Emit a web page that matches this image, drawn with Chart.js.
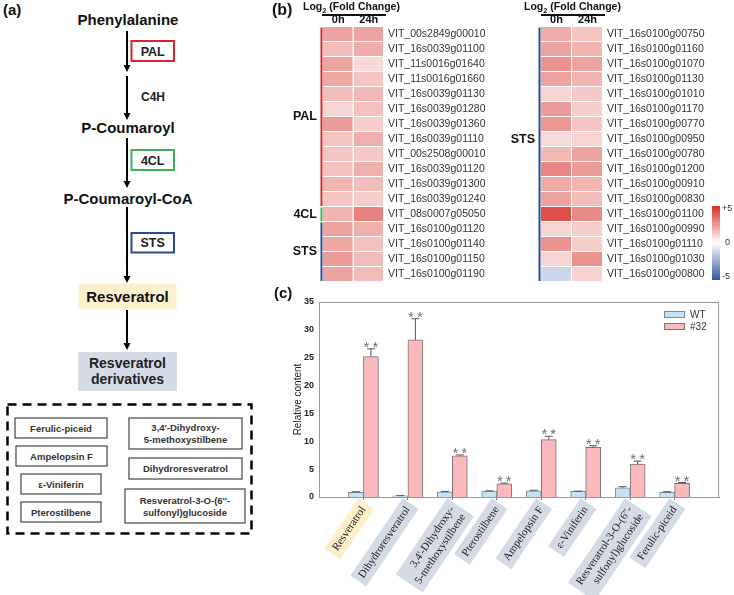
<!DOCTYPE html>
<html>
<head>
<meta charset="utf-8">
<title>Resveratrol pathway, gene expression and metabolite content</title>
<script src="https://cdn.jsdelivr.net/npm/chart.js"></script>
<style>
  body { margin: 0; width: 734px; height: 595px; position: relative; background: #fff; overflow: hidden;
         font-family: Arial, "Liberation Sans", sans-serif; }
  .abs { position: absolute; white-space: nowrap; }
  .panel { font-weight: bold; font-size: 15px; color: #111; }
  .hdr { font-weight: bold; font-size: 10.5px; color: #111; }
  .hdr span { font-size: 7.5px; position: relative; top: 3px; }
  .rule { height: 2px; background: #111; }
  .cb { font-size: 9px; color: #333; }
  canvas { position: absolute; }
  svg text { font-family: Arial, "Liberation Sans", sans-serif; font-weight: bold; }
</style>
</head>
<body>

<!-- (a) pathway -->
<svg class="abs" style="left:0;top:0" width="260" height="540">
  <text x="3" y="15" font-size="15" fill="#111">(a)</text>

  <text x="128" y="25" font-size="15" text-anchor="middle" fill="#111">Phenylalanine</text>
  <line x1="127" y1="31" x2="127" y2="65" stroke="#000" stroke-width="2"/>
  <polygon points="123.5,65 130.5,65 127,72" fill="#000"/>
  <rect x="131.5" y="41" width="42.5" height="20" fill="#fff" stroke="#d7262b" stroke-width="2"/>
  <text x="152.7" y="55.5" font-size="12.5" text-anchor="middle" fill="#222">PAL</text>

  <line x1="127" y1="76" x2="127" y2="113" stroke="#000" stroke-width="2"/>
  <polygon points="123.5,113 130.5,113 127,120" fill="#000"/>
  <text x="153" y="101" font-size="12" text-anchor="middle" fill="#222">C4H</text>

  <text x="128" y="133" font-size="15" text-anchor="middle" fill="#111">P-Coumaroyl</text>
  <line x1="127" y1="138" x2="127" y2="181" stroke="#000" stroke-width="2"/>
  <polygon points="123.5,181 130.5,181 127,188" fill="#000"/>
  <rect x="131.5" y="150" width="42.5" height="20" fill="#fff" stroke="#3cb25a" stroke-width="2"/>
  <text x="152.7" y="164.5" font-size="12.5" text-anchor="middle" fill="#222">4CL</text>

  <text x="128" y="204" font-size="15" text-anchor="middle" fill="#111">P-Coumaroyl-CoA</text>
  <line x1="127" y1="207" x2="127" y2="276" stroke="#000" stroke-width="2"/>
  <polygon points="123.5,276 130.5,276 127,283" fill="#000"/>
  <rect x="131.5" y="233" width="42.5" height="19.5" fill="#fff" stroke="#2c4b8e" stroke-width="2"/>
  <text x="152.7" y="247" font-size="12.5" text-anchor="middle" fill="#222">STS</text>

  <rect x="78.5" y="283.5" width="98" height="26" fill="#fdf0cc"/>
  <text x="127.5" y="302" font-size="15" text-anchor="middle" fill="#111">Resveratrol</text>
  <line x1="127" y1="310" x2="127" y2="343" stroke="#000" stroke-width="2"/>
  <polygon points="123.5,343 130.5,343 127,350" fill="#000"/>

  <rect x="78" y="352" width="99" height="39" fill="#d6dce7"/>
  <text x="127.5" y="368" font-size="14" text-anchor="middle" fill="#222">Resveratrol</text>
  <text x="127.5" y="384" font-size="14" text-anchor="middle" fill="#222">derivatives</text>

  <rect x="7.5" y="404.5" width="244" height="129" fill="none" stroke="#000" stroke-width="2.5" stroke-dasharray="9 6"/>
  <g font-size="9.5" fill="#333" text-anchor="middle">
    <rect x="15" y="418" width="92" height="20" fill="#fff" stroke="#444" stroke-width="1.2"/>
    <text x="61" y="431.5">Ferulic-piceid</text>
    <rect x="16" y="446" width="91" height="20" fill="#fff" stroke="#444" stroke-width="1.2"/>
    <text x="61.5" y="459.5">Ampelopsin F</text>
    <rect x="21" y="474" width="80" height="20" fill="#fff" stroke="#444" stroke-width="1.2"/>
    <text x="61" y="487.5">ε-Viniferin</text>
    <rect x="21" y="502" width="80" height="20" fill="#fff" stroke="#444" stroke-width="1.2"/>
    <text x="61" y="515.5">Pterostilbene</text>
    <rect x="129" y="418" width="113" height="31" fill="#fff" stroke="#444" stroke-width="1.2"/>
    <text x="185.5" y="431">3,4′-Dihydroxy-</text>
    <text x="185.5" y="443">5-methoxystilbene</text>
    <rect x="129" y="458" width="113" height="21" fill="#fff" stroke="#444" stroke-width="1.2"/>
    <text x="185.5" y="472">Dihydroresveratrol</text>
    <rect x="125" y="489" width="120" height="34" fill="#fff" stroke="#444" stroke-width="1.2"/>
    <text x="185" y="503.5">Resveratrol-3-O-(6''-</text>
    <text x="185" y="516">sulfonyl)glucoside</text>
  </g>
</svg>

<!-- (b) heatmaps -->
<canvas id="heatLeft" width="220" height="283" style="left:280px;top:10px"></canvas>
<canvas id="heatRight" width="234" height="283" style="left:500px;top:10px"></canvas>
<canvas id="bars" width="472" height="305" style="left:262px;top:290px"></canvas>

<div class="abs panel" style="left:272px;top:1px;font-size:16px">(b)</div>
<div class="abs hdr" style="left:303px;top:0px">Log<span>2</span> (Fold Change)</div>
<div class="abs rule" style="left:322px;top:14px;width:64px"></div>
<div class="abs hdr" style="left:524px;top:0px">Log<span>2</span> (Fold Change)</div>
<div class="abs rule" style="left:541px;top:14px;width:64px"></div>

<div class="abs" style="left:712px;top:206px;width:8px;height:74px;background:linear-gradient(to bottom, rgb(214,47,39), #fff 50%, rgb(49,84,163))"></div>
<div class="abs cb" style="left:722px;top:203px">+5</div>
<div class="abs cb" style="left:725px;top:237px">0</div>
<div class="abs cb" style="left:722px;top:271px">-5</div>

<div class="abs panel" style="left:274px;top:284px">(c)</div>

<script>
  const ARIAL = 'Arial, "Liberation Sans", sans-serif';
  const TIMES = '"Times New Roman", "Liberation Serif", serif';

  // ---- heatmap data: log2 fold change ----
  const timepoints = ['0h', '24h'];

  const leftGenes = ['VIT_00s2849g00010', 'VIT_16s0039g01100', 'VIT_11s0016g01640', 'VIT_11s0016g01660',
    'VIT_16s0039g01130', 'VIT_16s0039g01280', 'VIT_16s0039g01360', 'VIT_16s0039g01110',
    'VIT_00s2508g00010', 'VIT_16s0039g01120', 'VIT_16s0039g01300', 'VIT_16s0039g01240',
    'VIT_08s0007g05050', 'VIT_16s0100g01120', 'VIT_16s0100g01140', 'VIT_16s0100g01150', 'VIT_16s0100g01190'];
  const left0h  = [2.2, 1.6, 2.2, 2.1, 1.6, 1.0, 2.4, 1.4, 1.4, 1.5, 1.8, 1.4, 1.8, 2.2, 2.1, 2.4, 2.2];
  const left24h = [2.2, 2.0, 0.9, 1.4, 1.7, 1.5, 1.2, 1.9, 1.3, 1.9, 1.6, 1.2, 3.0, 1.9, 1.5, 1.6, 1.6];
  const leftGroups = [
    { name: 'PAL', first: 0, last: 11, labelRow: 5.5 },
    { name: '4CL', first: 12, last: 12, labelRow: 12 },
    { name: 'STS', first: 13, last: 16, labelRow: 14.5 }
  ];

  const rightGenes = ['VIT_16s0100g00750', 'VIT_16s0100g01160', 'VIT_16s0100g01070', 'VIT_16s0100g01130',
    'VIT_16s0100g01010', 'VIT_16s0100g01170', 'VIT_16s0100g00770', 'VIT_16s0100g00950',
    'VIT_16s0100g00780', 'VIT_16s0100g01200', 'VIT_16s0100g00910', 'VIT_16s0100g00830',
    'VIT_16s0100g01100', 'VIT_16s0100g00990', 'VIT_16s0100g01110', 'VIT_16s0100g01030', 'VIT_16s0100g00800'];
  const right0h  = [2.0, 2.2, 2.6, 2.2, 1.0, 2.4, 2.5, 0.9, 1.7, 2.9, 2.0, 2.2, 4.2, 1.0, 2.6, 1.0, -1.2];
  const right24h = [1.4, 1.8, 2.2, 1.8, 1.3, 1.2, 1.4, 1.0, 2.2, 2.4, 1.8, 1.6, 2.8, 1.2, 1.2, 2.6, 1.1];
  const rightGroups = [{ name: 'STS', first: 0, last: 16, labelRow: 7 }];

  const groupColors = { PAL: '#d7262b', '4CL': '#3cb25a', STS: '#2c4b8e' };

  // ---- bar chart data ----
  const compounds = ['Resveratrol', 'Dihydroresveratrol', ['3,4\'-Dihydroxy-', '5-methoxystilbene'],
    'Pterostilbene', 'Ampelopsin F', 'ε-Viniferin', ['Resveratrol-3-O-(6\'\'-', 'sulfonyl)glucoside'], 'Ferulic-piceid'];
  const wtValues     = [0.85, 0.2, 0.95, 1.05, 1.1, 1.0, 1.65, 0.85];
  const wtErrors     = [0.1, 0.05, 0.05, 0.05, 0.1, 0.05, 0.2, 0.1];
  const line32Values = [25.2, 28.2, 7.4, 2.35, 10.3, 8.9, 5.9, 2.45];
  const line32Errors = [1.4, 3.8, 0.15, 0.15, 0.6, 0.3, 0.55, 0.15];
  const significance = ['**', '**', '**', '**', '**', '**', '**', '**'];

  function fcColor(v) {
    const t = Math.min(Math.abs(v) / 5, 1);
    const end = v >= 0 ? [214, 47, 39] : [49, 84, 163];
    const c = end.map(e => Math.round(255 + (e - 255) * t));
    return 'rgb(' + c.join(',') + ')';
  }

  function heatmap(id, genes, v0, v24, groups, padLeft, axisWidth) {
    const groupPlugin = {
      id: 'geneGroups',
      afterDraw(chart) {
        const { ctx, chartArea: a, scales: { y } } = chart;
        ctx.save();
        groups.forEach(g => {
          const top = y.getPixelForValue(g.first - 0.5) + 0.5;
          const bottom = y.getPixelForValue(g.last + 0.5) - 1;
          ctx.fillStyle = groupColors[g.name];
          ctx.fillRect(a.left - 2.5, top, 2, bottom - top);
          ctx.fillStyle = '#111';
          ctx.font = 'bold 12.5px ' + ARIAL;
          ctx.textAlign = 'right';
          ctx.textBaseline = 'middle';
          ctx.fillText(g.name, a.left - 6, y.getPixelForValue(g.labelRow));
        });
        ctx.restore();
      }
    };
    return new Chart(document.getElementById(id), {
      type: 'bar',
      data: {
        labels: genes,
        datasets: [
          { label: timepoints[0], data: genes.map(() => [0, 1]), backgroundColor: c => fcColor(v0[c.dataIndex]) },
          { label: timepoints[1], data: genes.map(() => [1, 2]), backgroundColor: c => fcColor(v24[c.dataIndex]) }
        ]
      },
      options: {
        indexAxis: 'y',
        responsive: false,
        animation: false,
        devicePixelRatio: 1,
        layout: { padding: { left: padLeft, top: 0, right: 0, bottom: 11 } },
        datasets: {
          bar: { grouped: false, barPercentage: 1, categoryPercentage: 1, inflateAmount: 0,
                 borderColor: '#fff', borderSkipped: false, borderWidth: { top: 0, left: 0, right: 1, bottom: 1 } }
        },
        plugins: { legend: { display: false }, tooltip: { enabled: false } },
        scales: {
          x: {
            type: 'linear', position: 'top', min: 0, max: 2,
            afterBuildTicks: s => { s.ticks = timepoints.map((t, i) => ({ value: i + 0.5 })); },
            afterFit: s => { s.height = 17; },
            ticks: { callback: (v, i) => timepoints[i], padding: 0, color: '#111',
                     font: { family: ARIAL, size: 11, weight: 'bold' } },
            grid: { display: false, drawTicks: false },
            border: { display: false }
          },
          y: {
            position: 'right',
            afterFit: s => { s.width = axisWidth; },
            ticks: { autoSkip: false, padding: 4, color: '#333', font: { family: ARIAL, size: 10.5 } },
            grid: { display: false, drawTicks: false },
            border: { display: false }
          }
        }
      },
      plugins: [groupPlugin]
    });
  }

  heatmap('heatLeft', leftGenes, left0h, left24h, leftGroups, 43, 116);
  heatmap('heatRight', rightGenes, right0h, right24h, rightGroups, 41, 131);

  // ---- (c) bar chart ----
  const pad = arr => [null, ...arr, null];
  const xLabels = pad(compounds).map(l => l === null ? '' : l);

  const barExtras = {
    id: 'barExtras',
    beforeDraw(chart) {
      // shaded boxes behind the rotated category names
      const { ctx } = chart;
      chart.scales.x.getLabelItems().forEach((item, i) => {
        const lines = [].concat(item.label);
        if (!lines.join('')) return;
        const o = item.options;
        ctx.save();
        ctx.translate(o.translation[0], o.translation[1]);
        ctx.rotate(o.rotation);
        ctx.font = item.font.string;
        const w = Math.max(...lines.map(l => ctx.measureText(l).width));
        const lh = item.font.lineHeight;
        ctx.fillStyle = i === 1 ? '#fcefca' : '#d5dbe5';
        ctx.fillRect(-w - 5, item.textOffset - lh / 2 - 3, w + 10, lh * lines.length + 6);
        ctx.restore();
      });
    },
    afterDatasetsDraw(chart) {
      const { ctx, chartArea: a, scales: { y } } = chart;
      ctx.save();
      [wtErrors, line32Errors].forEach((errs, d) => {
        const vals = chart.data.datasets[d].data;
        chart.getDatasetMeta(d).data.forEach((bar, i) => {
          if (vals[i] == null) return;
          const yTop = y.getPixelForValue(vals[i] + errs[i - 1]);
          ctx.strokeStyle = '#555';
          ctx.lineWidth = 1;
          ctx.beginPath();
          ctx.moveTo(bar.x, bar.y);
          ctx.lineTo(bar.x, yTop);
          ctx.moveTo(bar.x - 4, yTop);
          ctx.lineTo(bar.x + 4, yTop);
          ctx.stroke();
          if (d === 1) {
            ctx.fillStyle = '#6e6e6e';
            ctx.font = '15px ' + ARIAL;
            ctx.textAlign = 'center';
            ctx.textBaseline = 'alphabetic';
            ctx.fillText(significance[i - 1].split('').join('\u2009'), bar.x, yTop + 3);
          }
        });
      });
      // frame round the plot
      ctx.strokeStyle = '#999';
      ctx.lineWidth = 1;
      ctx.strokeRect(a.left + 0.5, a.top + 0.5, a.right - a.left - 1, a.bottom - a.top);
      // legend
      chart.data.datasets.forEach((ds, d) => {
        const bx = a.right - 55, by = a.top + 9 + d * 12;
        ctx.fillStyle = ds.backgroundColor;
        ctx.fillRect(bx, by, 21, 7);
        ctx.strokeStyle = ds.borderColor;
        ctx.strokeRect(bx + 0.5, by + 0.5, 20, 6);
        ctx.fillStyle = '#333';
        ctx.font = '10px ' + ARIAL;
        ctx.textAlign = 'left';
        ctx.textBaseline = 'middle';
        ctx.fillText(ds.label, bx + 26, by + 4);
      });
      ctx.restore();
    }
  };

  new Chart(document.getElementById('bars'), {
    type: 'bar',
    data: {
      labels: xLabels,
      datasets: [
        { label: 'WT', data: pad(wtValues), backgroundColor: '#c6e2f5', borderColor: '#7d8790', borderWidth: 1 },
        { label: '#32', data: pad(line32Values), backgroundColor: '#f9b9bd', borderColor: '#7d7474', borderWidth: 1 }
      ]
    },
    options: {
      responsive: false,
      animation: false,
      devicePixelRatio: 1,
      layout: { padding: { left: 0, top: 12, right: 9, bottom: 0 } },
      datasets: { bar: { barThickness: 15, borderSkipped: 'start' } },
      plugins: { legend: { display: false }, tooltip: { enabled: false } },
      scales: {
        x: {
          offset: false,
          afterFit: s => { s.height = 98; },
          grid: { offset: false, drawOnChartArea: false, tickLength: 3,
                  color: c => (c.index === 0 || c.index === xLabels.length - 1) ? 'rgba(0,0,0,0)' : '#777' },
          border: { color: '#999' },
          ticks: { autoSkip: false, minRotation: 56, maxRotation: 56, padding: 4, color: '#222',
                   font: { family: TIMES, size: 11 } }
        },
        y: {
          min: 0, max: 35,
          afterFit: s => { s.width = 57; },
          title: { display: true, text: 'Relative content', color: '#222',
                   font: { family: ARIAL, size: 10 }, padding: { top: 30, bottom: 0 } },
          ticks: { stepSize: 5, padding: 5, color: '#222', font: { family: ARIAL, size: 9, weight: 'bold' } },
          grid: { display: false, drawTicks: false },
          border: { color: '#999' }
        }
      }
    },
    plugins: [barExtras]
  });
</script>
</body>
</html>
